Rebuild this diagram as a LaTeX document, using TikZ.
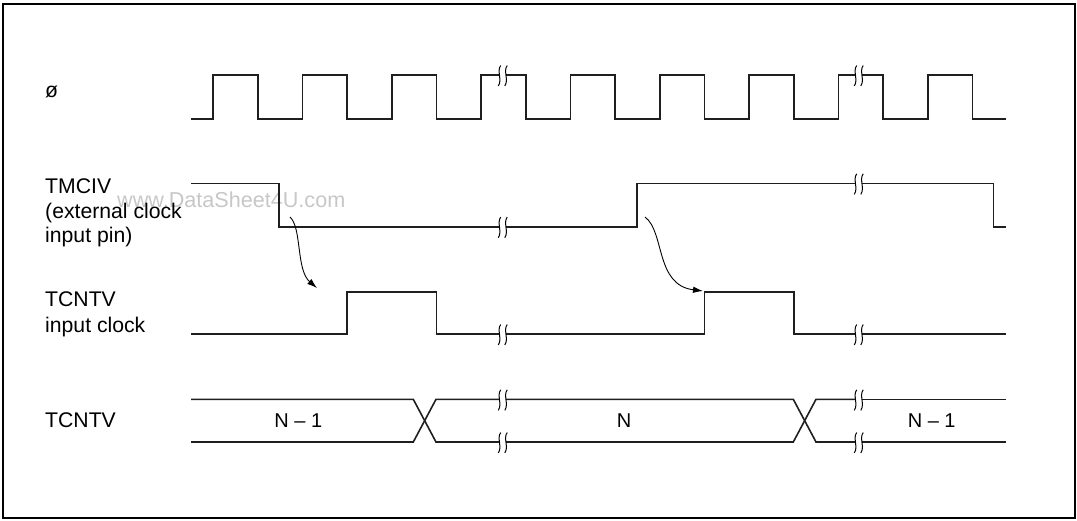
\documentclass[tikz,border=0pt]{standalone}
\usepackage{fontspec}
\setmainfont{Liberation Sans}
\usetikzlibrary{arrows.meta}
\begin{document}
\begin{tikzpicture}[x=1pt,y=-1pt,
  wave/.style={line width=1.6pt, draw=black!88, line join=miter},
  lbl/.style={anchor=base west, inner sep=0pt, font=\fontsize{21.2}{24}\selectfont},
  val/.style={anchor=base, inner sep=0pt, font=\fontsize{20}{24}\selectfont},
  cause/.style={line width=0.9pt, -{Latex[length=10pt,width=6.5pt]}},
  brkmark/.pic={\draw[line width=1pt] (1.2,-9.5) .. controls (-3,-4) and (3,5) .. (-1.2,11);
                \draw[line width=1pt] (7.7,-9.5) .. controls (3.5,-4) and (9.5,5) .. (5.3,11);}
]
\useasboundingbox (0,0) rectangle (1077,520);
\draw[line width=1.8pt] (3,4) rectangle (1075,518);

% watermark
\node[anchor=base west, inner sep=0pt, text=black!22, font=\fontsize{21.6}{22}\selectfont] (wm) at (117,207.5) {www.DataSheet4U.com};

% labels
\node[lbl] (lphi) at (45,97.5) {ø};
\node[lbl] (ltma) at (45,193.3) {TMCIV};
\node[lbl] (ltmb) at (45,218) {(external clock};
\node[lbl] (ltmc) at (45,242) {input pin)};
\node[lbl] (ltca) at (45,306.5) {TCNTV};
\node[lbl] (ltcb) at (45,332) {input clock};
\node[lbl] (ltcv) at (45,427.5) {TCNTV};

% clock
\draw[wave] (191,119) -| (213,75) -| (257.7,119) -| (302.3,75) -| (347,119) -| (391.7,75) -| (436.3,119) -| (481,75) -- (499.5,75);
\draw[wave] (506,75) -| (525.7,119) -| (570.3,75) -| (615,119) -| (659.7,75) -| (704.3,119) -| (749,75) -| (793.7,119) -| (838.3,75) -- (855.5,75);
\draw[wave] (862,75) -| (883,119) -| (927.7,75) -| (972.3,119) -- (1006,119);
\pic at (499.5,75) {brkmark};
\pic at (855.5,75) {brkmark};

% TMCIV
\draw[wave] (191,183.3) -| (279,226.7) -- (499.5,226.7);
\draw[wave] (506,226.7) -| (636.7,183.3) -- (855.5,183.3);
\draw[wave] (862,183.3) -| (993.3,226.7) -- (1006,226.7);
\pic at (499.5,226.7) {brkmark};
\pic at (855.5,183.3) {brkmark};

% TCNTV input clock
\draw[wave] (191,334) -| (347,291.7) -| (436.3,334) -- (499.5,334);
\draw[wave] (506,334) -| (704.3,291.7) -| (793.7,334) -- (855.5,334);
\draw[wave] (862,334) -- (1006,334);
\pic at (499.5,334) {brkmark};
\pic at (855.5,334) {brkmark};

% TCNTV bus
\draw[wave] (191,399.3) -- (413.3,399.3) -- (436,442) -- (499.5,442);
\draw[wave] (191,442) -- (413.3,442) -- (436,399.3) -- (499.5,399.3);
\draw[wave] (506,399.3) -- (793.3,399.3) -- (816,442) -- (855.5,442);
\draw[wave] (506,442) -- (793.3,442) -- (816,399.3) -- (855.5,399.3);
\draw[wave] (862,399.3) -- (1006,399.3);
\draw[wave] (862,442) -- (1006,442);
\pic at (499.5,399.3) {brkmark};
\pic at (499.5,442) {brkmark};
\pic at (855.5,399.3) {brkmark};
\pic at (855.5,442) {brkmark};

\node[val] (v1) at (298.3,427.3) {N – 1};
\node[val] (v2) at (624,427.3) {N};
\node[val] (v3) at (931.7,427.3) {N – 1};

% cause arrows
\coordinate (a1s) at (290,217);
\coordinate (a1e) at (317,288);
\coordinate (a2s) at (645,217);
\coordinate (a2e) at (703,291);
\draw[cause] (a1s) .. controls (302,228) and (296,270) .. (a1e);
\draw[cause] (a2s) .. controls (665,232) and (655,285) .. (a2e);
\end{tikzpicture}
\end{document}
